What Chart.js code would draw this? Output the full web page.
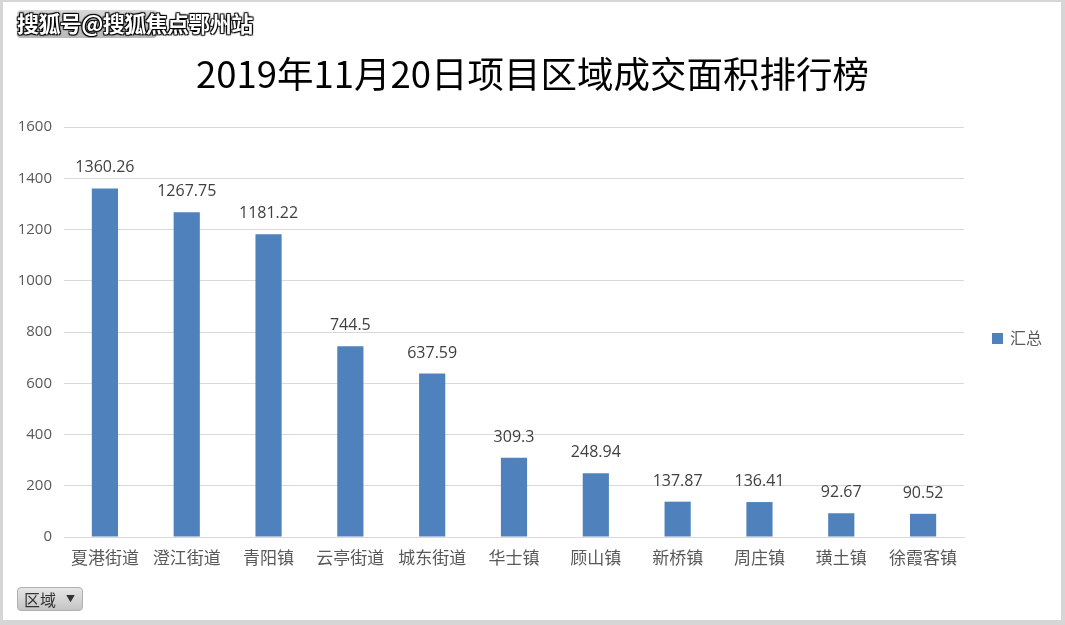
<!DOCTYPE html>
<html>
<head>
<meta charset="utf-8">
<script src="https://cdn.jsdelivr.net/npm/chart.js@4/dist/chart.umd.min.js"></script>
<style>
  html,body{margin:0;padding:0;}
  body{width:1065px;height:625px;background:#d6d6d6;position:relative;overflow:hidden;font-family:"Noto Sans CJK SC","Noto Sans",sans-serif;}
  #frame{position:absolute;left:3px;top:2px;width:1058px;height:618px;background:#fff;}
  #wrap{position:absolute;left:0;top:0;width:1065px;height:625px;}
  #title{position:absolute;left:0;width:1065px;top:50px;text-align:center;font-size:36.5px;color:#000;font-family:"Noto Sans CJK SC",sans-serif;line-height:46px;}
  #btn1{position:absolute;left:17px;top:10px;width:140px;height:28px;background:linear-gradient(#d8d8d8,#b8b8b8);border-radius:4px;}
  #wm{position:absolute;left:17px;top:7px;font-size:22px;color:#fff;font-weight:bold;text-shadow:1px 1px 1px #000,-1px -1px 1px #000,1px -1px 1px #000,-1px 1px 1px #000;line-height:30px;letter-spacing:-0.6px;}
  #btn2{position:absolute;left:17px;top:587px;width:66px;height:24px;background:linear-gradient(#e6e6e6,#c4c4c4);border-radius:4px;border:1px solid #b0b0b0;box-sizing:border-box;font-size:16px;color:#333;line-height:22px;padding-left:6px;}
  #btn2 span{position:absolute;right:7px;top:0;font-size:9px;}
</style>
</head>
<body>
<div id="frame"></div>
<div id="wrap"><canvas id="c" width="1065" height="625"></canvas></div>
<div id="title">2019年11月20日项目区域成交面积排行榜</div>
<div id="btn1"></div>
<div id="wm">搜狐号@搜狐焦点鄂州站</div>
<div id="btn2">区域<span>▼</span></div>
<script>
const categories = ["夏港街道","澄江街道","青阳镇","云亭街道","城东街道","华士镇","顾山镇","新桥镇","周庄镇","璜土镇","徐霞客镇"];
const values = [1360.26,1267.75,1181.22,744.5,637.59,309.3,248.94,137.87,136.41,92.67,90.52];
const valueLabels = ["1360.26","1267.75","1181.22","744.5","637.59","309.3","248.94","137.87","136.41","92.67","90.52"];
const seriesName = "汇总";
const yTicks = [0,200,400,600,800,1000,1200,1400,1600];

const labelPlugin = {
  id:'barLabels',
  afterDatasetsDraw(chart){
    const ctx = chart.ctx;
    const meta = chart.getDatasetMeta(0);
    ctx.save();
    ctx.font = '16px "Open Sans","Noto Sans",sans-serif';
    ctx.fillStyle = '#404040';
    ctx.textAlign = 'center';
    ctx.textBaseline = 'alphabetic';
    meta.data.forEach((bar,i)=>{
      ctx.fillText(valueLabels[i], bar.x, bar.y - 16);
    });
    ctx.restore();
  }
};
const legendPlugin = {
  id:'sideLegend',
  afterDraw(chart){
    const ctx = chart.ctx;
    const ds = chart.data.datasets[0];
    ctx.save();
    ctx.fillStyle = ds.backgroundColor;
    ctx.fillRect(992, 333, 11, 11);
    ctx.font = '16px "Noto Sans CJK SC",sans-serif';
    ctx.fillStyle = '#595959';
    ctx.textBaseline = 'middle';
    ctx.textAlign = 'left';
    ctx.fillText(ds.label, 1010, 338);
    ctx.restore();
  }
};

new Chart(document.getElementById('c'), {
  type:'bar',
  data:{
    labels:categories,
    datasets:[{label:seriesName,data:values,backgroundColor:'#4f81bd',barPercentage:0.32,categoryPercentage:1.0}]
  },
  options:{
    responsive:false,
    animation:false,
    layout:{padding:{left:0,top:127,right:101,bottom:48}},
    plugins:{legend:{display:false},title:{display:false},tooltip:{enabled:false}},
    scales:{
      x:{
        grid:{display:false,drawTicks:false},
        border:{display:true,color:'#d9d9d9',width:1},
        ticks:{color:'#595959',font:{size:17,family:'"Noto Sans CJK SC",sans-serif'},padding:10,maxRotation:0,autoSkip:false},
        afterFit(s){s.height=40;}
      },
      y:{
        min:0,max:1600,
        afterBuildTicks(s){s.ticks = yTicks.map(v=>({value:v}));},
        grid:{color:'#d9d9d9',lineWidth:1,drawTicks:false},
        border:{display:false},
        ticks:{color:'#595959',font:{size:15,family:'"Open Sans","Noto Sans",sans-serif'},padding:12,callback:(v)=>String(v)},
        afterFit(s){s.width=64;}
      }
    }
  },
  plugins:[labelPlugin,legendPlugin]
});
</script>
</body>
</html>
